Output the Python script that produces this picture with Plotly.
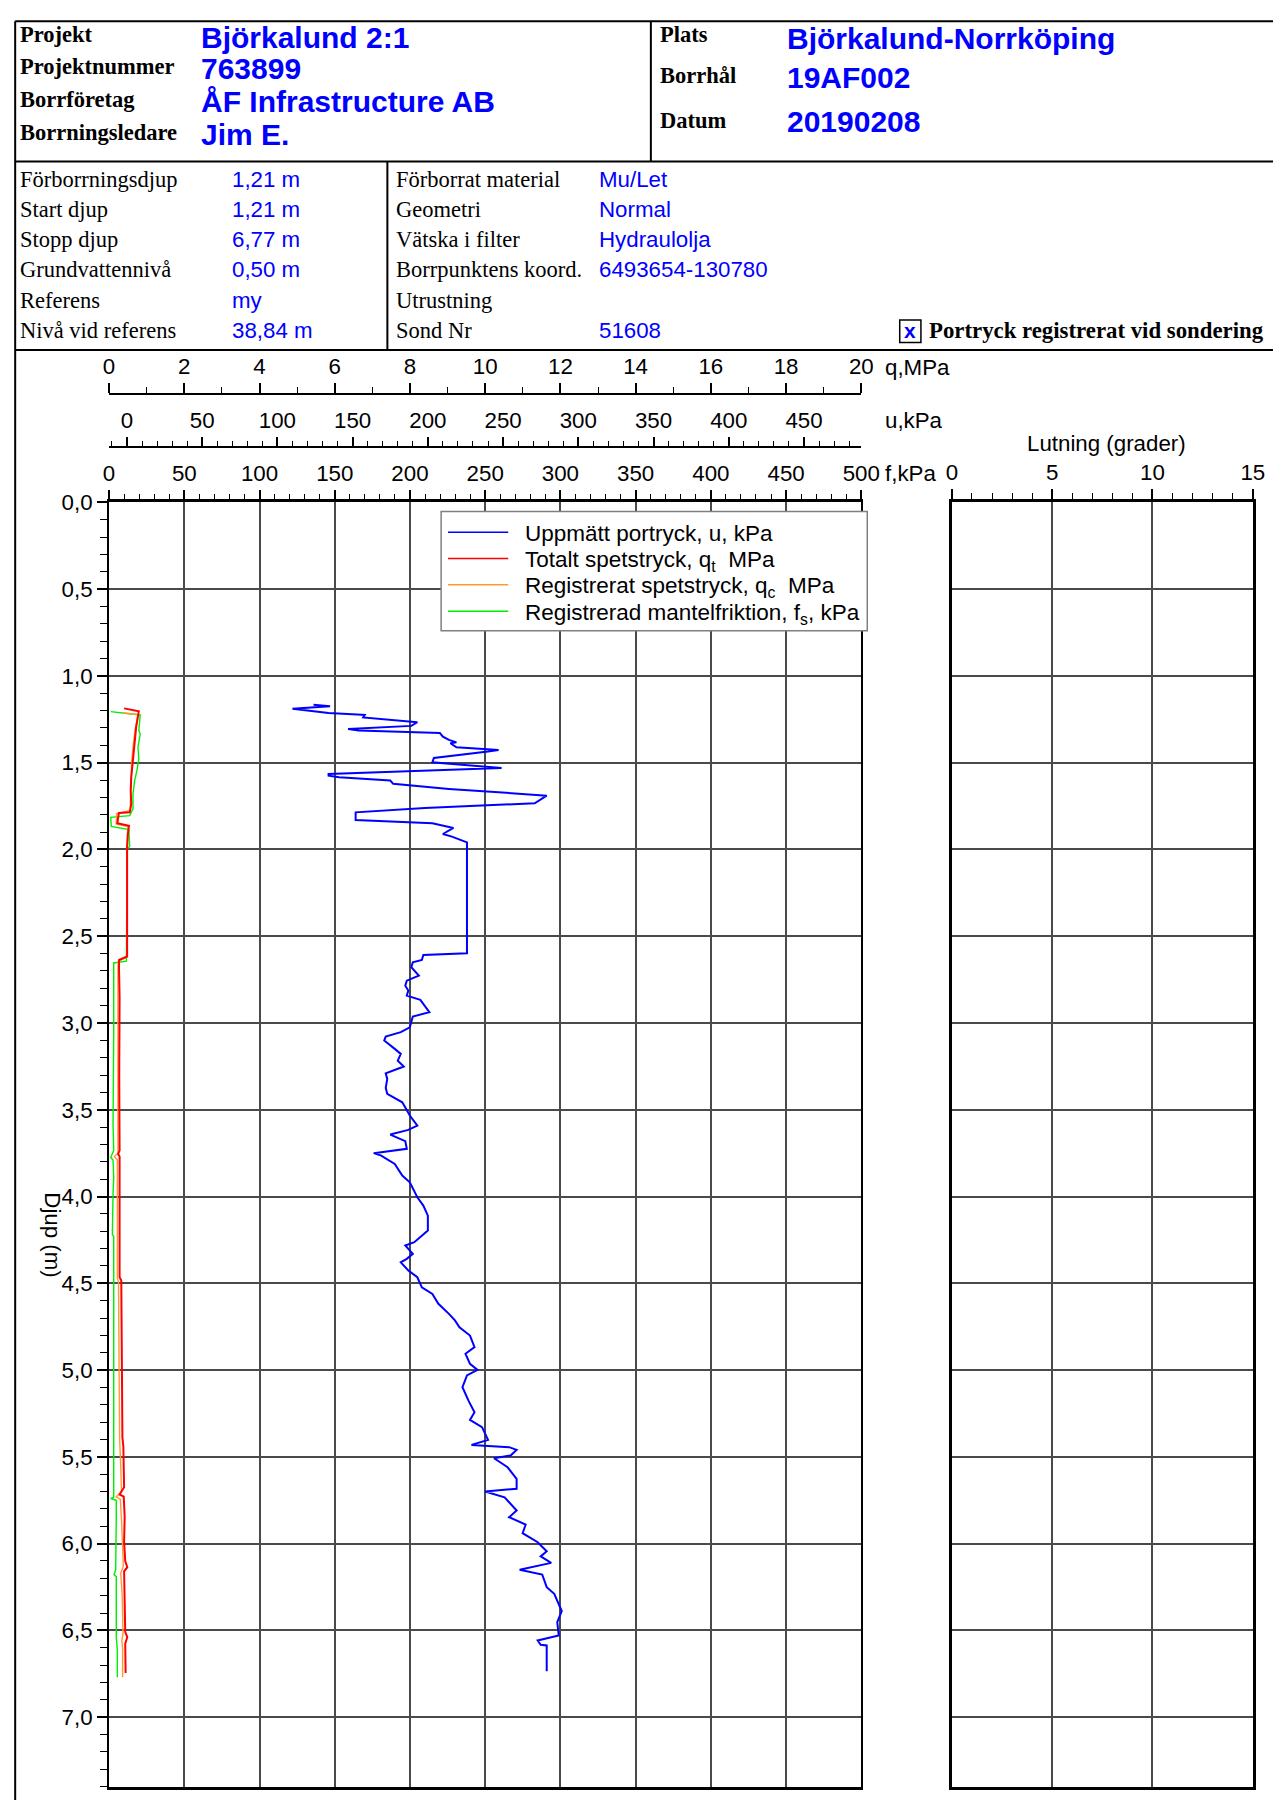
import plotly.graph_objects as go

# figure size and the measured mapping from figure pixels to the photographed page
FW, FH = 1281, 1800
AX, SX = 10.5, 0.985
AY, SY = 19.3, 0.9934


def px(x):
    return ((x - AX) / SX) / FW


def py(y):
    return 1 - ((y - AY) / SY) / FH


# ---------------- header data ----------------
head_left_labels = ["Projekt", "Projektnummer", "Borrföretag", "Borrningsledare"]
head_left_values = ["Björkalund 2:1", "763899", "ÅF Infrastructure AB", "Jim E."]
head_right_labels = ["Plats", "Borrhål", "Datum"]
head_right_values = ["Björkalund-Norrköping", "19AF002", "20190208"]
info_left_labels = ["Förborrningsdjup", "Start djup", "Stopp djup", "Grundvattennivå", "Referens", "Nivå vid referens"]
info_left_values = ["1,21 m", "1,21 m", "6,77 m", "0,50 m", "my", "38,84 m"]
info_mid_labels = ["Förborrat material", "Geometri", "Vätska i filter", "Borrpunktens koord.", "Utrustning", "Sond Nr"]
info_mid_values = ["Mu/Let", "Normal", "Hydraulolja", "6493654-130780", "", "51608"]
checkbox_text = "Portryck registrerat vid sondering"

# ---------------- series data ----------------
# Uppmätt portryck u (kPa) vs depth (m)
u_depth = [1.166, 1.175, 1.189, 1.214, 1.223, 1.225, 1.239, 1.264, 1.267, 1.288, 1.306, 1.315, 1.329, 1.350,
           1.369, 1.383, 1.388, 1.411, 1.427, 1.436, 1.473, 1.498, 1.530, 1.565, 1.575, 1.584, 1.603, 1.622,
           1.651, 1.690, 1.734, 1.761, 1.786, 1.830, 1.849, 1.876, 1.911, 1.926, 1.959, 1.988, 2.598, 2.608,
           2.637, 2.650, 2.679, 2.727, 2.756, 2.785, 2.813, 2.842, 2.867, 2.938, 2.963, 3.025, 3.053, 3.078,
           3.101, 3.149, 3.178, 3.217, 3.251, 3.290, 3.322, 3.374, 3.408, 3.457, 3.533, 3.591, 3.616, 3.643,
           3.681, 3.725, 3.750, 3.764, 3.812, 3.879, 3.918, 4.004, 4.052, 4.110, 4.196, 4.263, 4.282, 4.330,
           4.359, 4.379, 4.426, 4.465, 4.523, 4.561, 4.618, 4.676, 4.714, 4.753, 4.801, 4.868, 4.906, 4.964,
           4.999, 5.031, 5.099, 5.176, 5.243, 5.287, 5.329, 5.402, 5.431, 5.444, 5.460, 5.492, 5.508, 5.560,
           5.627, 5.684, 5.700, 5.733, 5.809, 5.848, 5.890, 5.940, 5.992, 6.044, 6.074, 6.111, 6.151, 6.178,
           6.251, 6.289, 6.328, 6.389, 6.453, 6.529, 6.558, 6.583, 6.587, 6.735]
u_kpa = [124, 135, 110, 134, 153, 158, 157, 189, 193, 189, 147, 154, 208, 210,
         214, 219, 215, 219, 247, 240, 204, 203, 249, 134, 134, 141, 175, 177,
         214, 279, 271, 198, 152, 152, 203, 217, 210, 216, 226, 226, 226, 197,
         196, 190, 189, 194, 186, 185, 187, 186, 195, 201, 190, 188, 182, 172,
         171, 178, 182, 180, 184, 172, 173, 172, 173, 183, 188, 193, 187, 175,
         185, 186, 164, 169, 178, 183, 188, 193, 197, 200, 200, 191, 185, 190,
         186, 182, 187, 193, 196, 203, 207, 214, 218, 221, 228, 231, 225, 228,
         233, 226, 223, 227, 231, 228, 236, 240, 229, 254, 259, 255, 244, 253,
         259, 259, 238, 251, 259, 254, 265, 263, 273, 279, 275, 282, 261, 276,
         279, 284, 286, 289, 286, 287, 273, 275, 279, 279]

# Totalt spetstryck qt (MPa)
qt_depth = [1.187, 1.204, 1.296, 1.373, 1.469, 1.584, 1.661, 1.738, 1.786, 1.790, 1.849, 1.863, 1.911,
            1.988, 2.617, 2.637, 2.698, 2.850, 3.300, 3.735, 3.754, 3.770, 4.100, 4.465, 4.484, 4.906,
            5.387, 5.440, 5.675, 5.717, 5.729, 5.848, 5.990, 6.100, 6.136, 6.160, 6.330, 6.510, 6.539,
            6.577, 6.746]
qt_mpa = [0.40, 0.79, 0.72, 0.68, 0.635, 0.59, 0.575, 0.59, 0.55, 0.26, 0.22, 0.53, 0.50,
          0.48, 0.48, 0.265, 0.265, 0.28, 0.27, 0.28, 0.24, 0.28, 0.28, 0.28, 0.325, 0.345,
          0.355, 0.38, 0.40, 0.28, 0.39, 0.415, 0.40, 0.43, 0.485, 0.40, 0.415, 0.43, 0.485,
          0.43, 0.44]

# Registrerat spetstryck qc (MPa)
qc_depth = [1.214, 1.222, 1.300, 1.400, 1.500, 1.600, 1.700, 1.775, 1.794, 1.855, 1.868, 1.950, 2.000,
            2.620, 2.645, 2.700, 3.000, 3.500, 3.750, 3.770, 3.790, 4.200, 4.470, 4.490, 5.000, 5.390,
            5.550, 5.700, 5.730, 5.745, 5.860, 6.000, 6.130, 6.170, 6.300, 6.520, 6.560, 6.600, 6.770]
qc_mpa = [0.37, 0.77, 0.70, 0.64, 0.60, 0.58, 0.57, 0.56, 0.20, 0.19, 0.50, 0.48, 0.47,
          0.47, 0.24, 0.235, 0.24, 0.24, 0.235, 0.14, 0.22, 0.22, 0.22, 0.25, 0.26, 0.28,
          0.31, 0.33, 0.19, 0.30, 0.33, 0.36, 0.38, 0.31, 0.35, 0.37, 0.34, 0.36, 0.36]

# Registrerad mantelfriktion fs (kPa)
fs_depth = [1.206, 1.225, 1.315, 1.335, 1.411, 1.478, 1.546, 1.603, 1.680, 1.766, 1.805, 1.815, 1.867,
            1.886, 1.982, 2.000, 2.644, 2.654, 3.040, 3.580, 3.735, 3.774, 3.790, 3.890, 3.980, 4.196,
            4.220, 4.230, 5.733, 5.740, 5.750, 5.860, 6.000, 6.150, 6.180, 6.190, 6.539, 6.615, 6.770]
fs_kpa = [1.1, 20.7, 19.8, 20.7, 19.2, 19.8, 18.5, 17.0, 15.9, 15.9, 13.7, 1.1, 1.5,
          13.2, 13.7, 12.0, 11.5, 3.1, 3.1, 2.65, 3.1, 1.1, 2.65, 3.1, 2.65, 2.2,
          2.2, 3.1, 3.1, 1.1, 4.8, 4.8, 4.4, 4.4, 3.3, 4.8, 4.8, 5.5, 5.5]

# legend entries (order, text, colour)
legend_names = ["Uppmätt portryck, u, kPa",
                "Totalt spetstryck, q<sub>t</sub>\u00a0\u00a0MPa",
                "Registrerat spetstryck, q<sub>c</sub>\u00a0\u00a0MPa",
                "Registrerad mantelfriktion, f<sub>s</sub>, kPa"]
legend_colors = ["#0000FF", "#FF0000", "#FF9A33", "#00EE00"]

# ---------------- axis settings ----------------
depth_range = [7.4, 0.0]
f_range = [0, 500]
u_range = [-11.9, 488.1]
q_range = [0, 20]
tilt_range = [0, 15]

SANS = "Liberation Sans, Arial, sans-serif"
SERIF = "Liberation Serif, Times New Roman, serif"
BLUE = "#0000FF"
GRID = "#4a4a4a"
TF = 22.3

fig = go.Figure()

fig.add_trace(go.Scatter(x=fs_kpa, y=fs_depth, xaxis="x", yaxis="y", mode="lines",
                         line=dict(color=legend_colors[3], width=1.4), showlegend=False,
                         name=legend_names[3]))
fig.add_trace(go.Scatter(x=qc_mpa, y=qc_depth, xaxis="x3", yaxis="y", mode="lines",
                         line=dict(color=legend_colors[2], width=1.4), showlegend=False,
                         name=legend_names[2]))
fig.add_trace(go.Scatter(x=qt_mpa, y=qt_depth, xaxis="x3", yaxis="y", mode="lines",
                         line=dict(color=legend_colors[1], width=2), showlegend=False,
                         name=legend_names[1]))
fig.add_trace(go.Scatter(x=u_kpa, y=u_depth, xaxis="x2", yaxis="y", mode="lines",
                         line=dict(color=legend_colors[0], width=2), showlegend=False,
                         name=legend_names[0]))
fig.add_trace(go.Scatter(x=[], y=[], xaxis="x4", yaxis="y2", mode="lines", showlegend=False))

main_dom = [px(106), px(861.7)]
tilt_dom = [px(952.7), px(1255)]
y_dom = [py(1786), py(501.7)]

common_x = dict(side="top", ticks="outside", tickcolor="black", zeroline=False,
                showline=True, linecolor="black", tickfont=dict(size=TF, family=SANS))

fig.update_layout(
    width=FW, height=FH, autosize=False,
    margin=dict(l=0, r=0, t=0, b=0),
    paper_bgcolor="white", plot_bgcolor="white",
    separators=", ",
    font=dict(family=SANS, size=TF, color="black"),
    showlegend=False,
    xaxis=dict(common_x, domain=main_dom, range=f_range, anchor="y", mirror=True, linewidth=2.5,
               tick0=0, dtick=50, ticklen=10, tickwidth=1.5,
               minor=dict(dtick=10, ticklen=6, tickwidth=1.2, tickcolor="black", showgrid=False),
               showgrid=True, gridcolor=GRID, gridwidth=1.5),
    xaxis2=dict(common_x, range=u_range, overlaying="x", anchor="free", position=py(446.7),
                linewidth=2, tick0=0, dtick=50, ticklen=9, tickwidth=1.5,
                minor=dict(dtick=10, ticklen=5, tickwidth=1.2, tickcolor="black"), showgrid=False),
    xaxis3=dict(common_x, range=q_range, overlaying="x", anchor="free", position=py(393.7),
                linewidth=2, tick0=0, dtick=2, ticklen=10, tickwidth=1.5,
                minor=dict(dtick=1, ticklen=6, tickwidth=1.2, tickcolor="black"), showgrid=False),
    xaxis4=dict(common_x, domain=tilt_dom, range=tilt_range, anchor="y2", mirror=True, linewidth=2.5,
                tick0=0, dtick=5, ticklen=11, tickwidth=1.5,
                minor=dict(dtick=1, ticklen=7, tickwidth=1.2, tickcolor="black", showgrid=False),
                showgrid=True, gridcolor=GRID, gridwidth=1.5),
    yaxis=dict(domain=y_dom, range=depth_range, anchor="x", ticks="outside", tickcolor="black",
               tick0=0, dtick=0.5, tickformat=".1f", ticklen=10, tickwidth=1.5,
               minor=dict(dtick=0.1, ticklen=7, tickwidth=1.2, tickcolor="black", showgrid=False),
               showline=True, linecolor="black", linewidth=2, mirror=True, zeroline=False,
               showgrid=True, gridcolor=GRID, gridwidth=1.5, tickfont=dict(size=TF, family=SANS)),
    yaxis2=dict(domain=y_dom, range=depth_range, anchor="x4", tick0=0, dtick=0.5, ticks="",
                showticklabels=False, showline=True, linecolor="black", linewidth=2.5, mirror=True,
                zeroline=False, showgrid=True, gridcolor=GRID, gridwidth=1.5),
)

annotations = []


def txt(x, y, s, size, family, color="black", bold=False, xanchor="left", angle=0):
    if bold:
        s = "<b>" + s + "</b>"
    annotations.append(dict(x=px(x), y=py(y), xref="paper", yref="paper", text=s, showarrow=False,
                            xanchor=xanchor, yanchor="middle", textangle=angle,
                            font=dict(size=size, family=family, color=color)))


# header (first row nudged down so it stays inside the drawable page)
for lab, yl, val, yv in zip(head_left_labels, [33.5, 65.5, 98.5, 131.5],
                            head_left_values, [36.5, 68, 100.5, 133.5]):
    txt(15, yl, lab, 22.5, SERIF, bold=True)
    txt(196, yv, val, 30, SANS, BLUE, bold=True)
for lab, yl, val, yv in zip(head_right_labels, [33.5, 74.5, 119.5],
                            head_right_values, [37.5, 77, 121]):
    txt(657, yl, lab, 22.5, SERIF, bold=True)
    txt(785, yv, val, 30, SANS, BLUE, bold=True)

info_rows = [179.3, 209.3, 239.3, 269.3, 300, 330]
for yy, lab, val in zip(info_rows, info_left_labels, info_left_values):
    txt(15, yy, lab, 22.5, SERIF)
    txt(227, yy, val, 22.3, SANS, BLUE)
for yy, lab, val in zip(info_rows, info_mid_labels, info_mid_values):
    txt(392, yy, lab, 22.5, SERIF)
    if val:
        txt(596, yy, val, 22.3, SANS, BLUE)
txt(911, 329.5, "x", 21, SANS, BLUE, bold=True, xanchor="center")
txt(928, 330, checkbox_text, 22.8, SERIF, bold=True)

# axis titles
txt(884, 367, "q,MPa", TF, SANS)
txt(884, 420, "u,kPa", TF, SANS)
txt(884, 473, "f,kPa", TF, SANS)
txt(1108, 443, "Lutning (grader)", TF, SANS, xanchor="center")
txt(49, 1234, "Djup (m)", TF, SANS, xanchor="center", angle=90)

# legend (drawn as a framed list)
legend_rows = [531.5, 557.8, 584.2, 610.6]
for i, (name, col, yy) in enumerate(zip(legend_names, legend_colors, legend_rows)):
    txt(522, yy + (2.5 if i > 0 else 1.5), name, 22.5, SANS)

shapes = []


def line(x0, y0, x1, y1, w=2, color="black"):
    shapes.append(dict(type="line", xref="paper", yref="paper", x0=px(x0), y0=py(y0), x1=px(x1), y1=py(y1),
                       line=dict(color=color, width=w)))


shapes.append(dict(type="rect", xref="paper", yref="paper", x0=px(439.6), y0=py(630), x1=px(867.7),
                   y1=py(510.8), line=dict(color="#808080", width=1.5), fillcolor="white", layer="above"))
for col, yy in zip(legend_colors, legend_rows):
    line(446.5, yy, 507, yy, 1.5, col)

fig.update_layout(annotations=annotations)

# frame lines (outer edge kept just inside the drawable page)
top_y = max(9.3, AY + 1.2 * SY)
left_x = max(8.2, AX + 1.2 * SX)
line(left_x, top_y, 1295, top_y)
line(left_x, top_y, left_x, 1810)
line(left_x, 160.7, 1295, 160.7)
line(left_x, 349.3, 1295, 349.3)
line(650.3, top_y, 650.3, 160.7)
line(385.6, 160.7, 385.6, 349.3)
shapes.append(dict(type="rect", xref="paper", yref="paper", x0=px(900.3), y0=py(341.7), x1=px(921.6),
                   y1=py(319.3), line=dict(color="black", width=1.5)))
fig.update_layout(shapes=shapes)

fig.write_html("out.html")
